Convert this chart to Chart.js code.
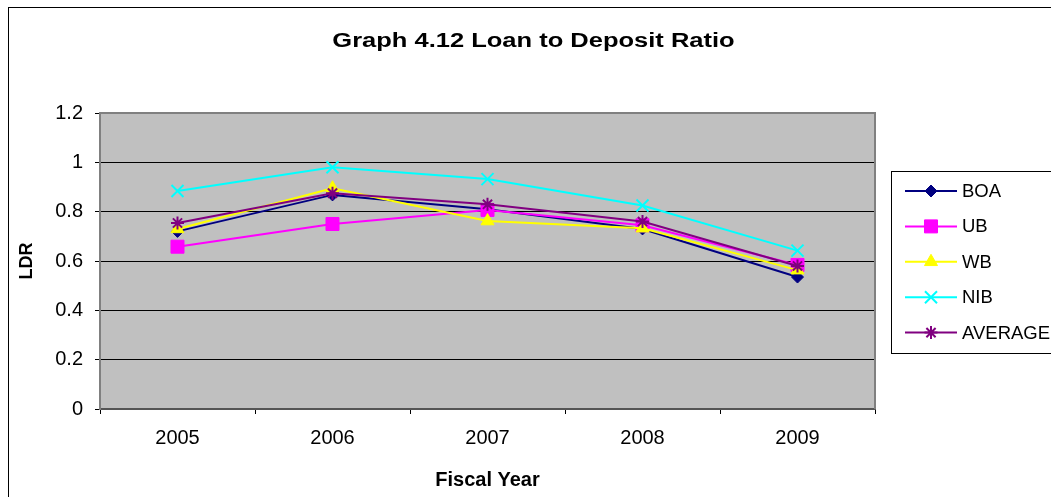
<!DOCTYPE html>
<html><head><meta charset="utf-8">
<script src="https://cdn.jsdelivr.net/npm/chart.js@4.4.0/dist/chart.umd.min.js"></script>
<style>html,body{margin:0;padding:0;background:#fff;overflow:hidden}canvas{display:block}</style>
</head><body>
<canvas id="c" width="1051" height="497"></canvas>
<script>
const years = ['2005', '2006', '2007', '2008', '2009'];
const boa = [0.72, 0.868, 0.81, 0.73, 0.535];
const ub = [0.658, 0.75, 0.807, 0.745, 0.584];
const wb = [0.73, 0.895, 0.762, 0.733, 0.563];
const nib = [0.884, 0.98, 0.932, 0.825, 0.642];
const average = [0.754, 0.875, 0.83, 0.76, 0.58];
const seriesNames = ['BOA', 'UB', 'WB', 'NIB', 'AVERAGE'];
const yTicks = [0, 0.2, 0.4, 0.6, 0.8, 1, 1.2];
const yTickLabels = ['0', '0.2', '0.4', '0.6', '0.8', '1', '1.2'];

const FONT = "'Liberation Sans', Arial, sans-serif";
const seriesData = [boa, ub, wb, nib, average];
const styles = [
  {color: '#000080', point: 'rectRot', r: 6, bw: 1},
  {color: '#FF00FF', point: 'rect', r: 9.2, bw: 1},
  {color: '#FFFF00', point: 'triangle', r: 7.5, bw: 1},
  {color: '#00FFFF', point: 'crossRot', r: 8.5, bw: 2},
  {color: '#800080', point: 'star', r: 6.5, bw: 2}
];

const datasets = seriesNames.map((name, i) => ({
  label: name,
  data: seriesData[i],
  borderColor: styles[i].color,
  backgroundColor: styles[i].color,
  borderWidth: 2,
  pointStyle: styles[i].point,
  pointRadius: styles[i].r,
  pointHoverRadius: styles[i].r,
  pointBorderWidth: styles[i].bw,
  pointBackgroundColor: styles[i].color,
  pointBorderColor: styles[i].color,
  tension: 0,
  order: seriesNames.length - 1 - i,
  clip: false
}));

const decor = {
  id: 'decor',
  beforeDraw(chart) {
    const {ctx, chartArea: a} = chart;
    ctx.save();
    ctx.fillStyle = '#C0C0C0';
    ctx.fillRect(a.left, a.top, a.right - a.left, a.bottom - a.top);
    ctx.restore();
    const tb = chart.titleBlock;
    if (tb && !tb._stPatched) {
      const orig = tb.draw.bind(tb);
      tb.draw = function () {
        const c = this.ctx;
        const cx = (this.left + this.right) / 2;
        c.save();
        c.translate(cx, 0);
        c.scale(1.275, 1);
        c.translate(-cx, 0);
        orig();
        c.restore();
      };
      tb._stPatched = true;
    }
  },
  beforeDatasetsDraw(chart) {
    const {ctx, chartArea: a} = chart;
    ctx.save();
    ctx.strokeStyle = '#808080';
    ctx.lineWidth = 2;
    ctx.beginPath();
    ctx.moveTo(a.left, a.top);
    ctx.lineTo(a.right, a.top);
    ctx.lineTo(a.right, a.bottom);
    ctx.stroke();
    ctx.restore();
  },
  afterDraw(chart) {
    const ctx = chart.ctx;
    ctx.save();
    ctx.strokeStyle = '#000';
    ctx.lineWidth = 1;
    ctx.strokeRect(8.5, 7.5, 1200, 700);
    // legend
    ctx.strokeStyle = '#000';
    ctx.strokeRect(891.5, 171.5, 300, 182);
    const y0 = 191, dy = 35.4;
    chart.data.datasets.forEach((ds, i) => {
      const y = y0 + i * dy;
      ctx.strokeStyle = ds.borderColor;
      ctx.lineWidth = 2;
      ctx.beginPath();
      ctx.moveTo(905, y);
      ctx.lineTo(957, y);
      ctx.stroke();
      ctx.fillStyle = ds.pointBackgroundColor;
      ctx.strokeStyle = ds.pointBorderColor;
      ctx.lineWidth = ds.pointBorderWidth;
      Chart.helpers.drawPoint(ctx, {pointStyle: ds.pointStyle, radius: ds.pointRadius, borderWidth: ds.pointBorderWidth, rotation: 0}, 931, y);
      ctx.fillStyle = '#000';
      ctx.font = "18.5px " + FONT;
      ctx.textBaseline = 'middle';
      ctx.textAlign = 'left';
      ctx.fillText(ds.label, 962, y + 1);
    });
    ctx.restore();
  }
};

new Chart(document.getElementById('c'), {
  type: 'line',
  data: {labels: years, datasets},
  plugins: [decor],
  options: {
    responsive: false,
    devicePixelRatio: 1,
    animation: false,
    layout: {padding: {left: 16, right: 0, top: 7, bottom: 0}},
    plugins: {
      legend: {display: false},
      tooltip: {enabled: false},
      title: {
        display: true,
        text: 'Graph 4.12 Loan to Deposit Ratio',
        color: '#000',
        font: {family: FONT, size: 20, weight: 'bold', lineHeight: 1.2},
        padding: {top: 22, bottom: 60}
      }
    },
    scales: {
      x: {
        offset: true,
        afterFit(s) { s.height = 88; },
        grid: {offset: true, drawOnChartArea: false, drawTicks: true, tickLength: 5, tickColor: '#000', color: '#000'},
        border: {display: true, color: '#555', width: 2},
        ticks: {color: '#000', font: {family: FONT, size: 20}, padding: 12, maxRotation: 0, autoSkip: false},
        title: {display: true, text: 'Fiscal Year', color: '#000', font: {family: FONT, size: 20, weight: 'bold', lineHeight: 1.2}, padding: {top: 0, bottom: 5}}
      },
      y: {
        min: 0,
        max: 1.2,
        afterFit(s) { s.width = 84; },
        afterBuildTicks(s) { s.ticks = yTicks.map(v => ({value: v})); },
        grid: {color: '#000', lineWidth: 1, drawTicks: true, tickLength: 5, tickColor: '#000'},
        border: {display: true, color: '#808080', width: 2},
        ticks: {color: '#000', font: {family: FONT, size: 20}, padding: 12, callback: (v, i) => yTickLabels[i]},
        title: {display: true, text: 'LDR', color: '#000', font: {family: FONT, size: 18, weight: 'bold', lineHeight: 1.2}, padding: {top: 0, bottom: 0}}
      },
      yR: {
        position: 'right',
        display: true,
        afterFit(s) { s.width = 176; },
        grid: {display: false, drawTicks: false},
        border: {display: false},
        ticks: {display: false}
      }
    }
  }
});
</script>
</body></html>
